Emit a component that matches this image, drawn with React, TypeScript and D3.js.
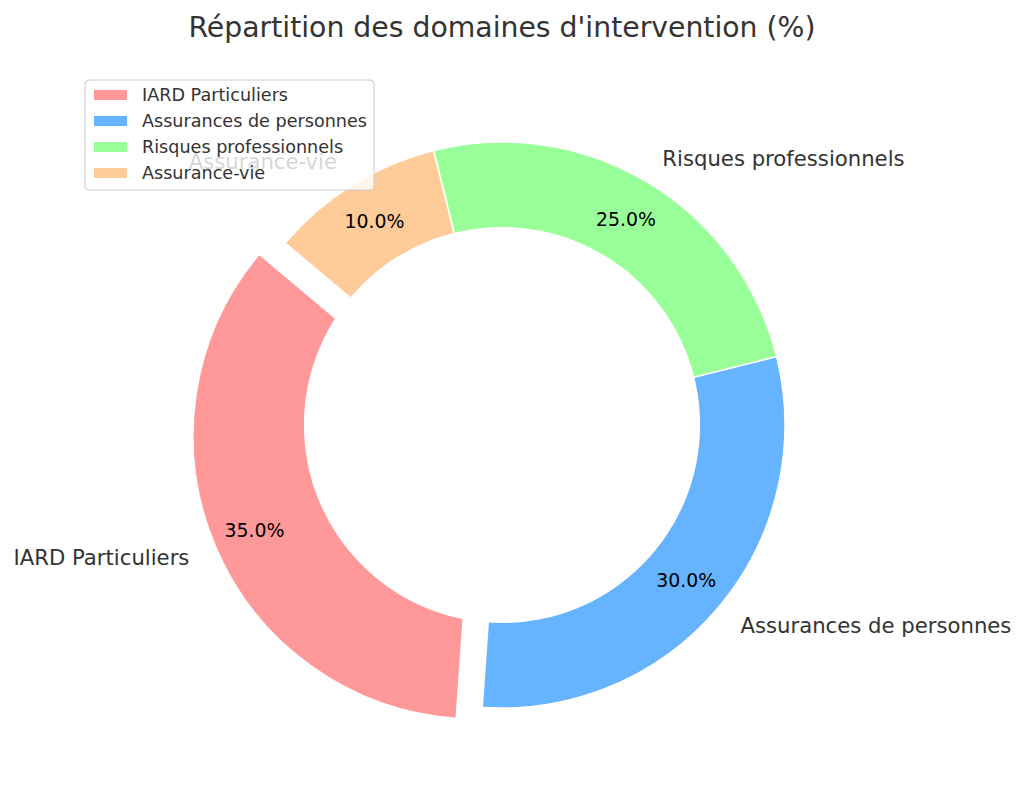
import React from "react";
import * as d3 from "d3";

const categories = ["IARD Particuliers", "Assurances de personnes", "Risques professionnels", "Assurance-vie"];
const values = [35, 30, 25, 10];
const colors = ["#ff9999", "#66b3ff", "#99ff99", "#ffcc99"];
const explode = [0.1, 0, 0, 0];
const title = "Répartition des domaines d'intervention (%)";

const W = 1024;
const H = 792;
const CX = 502;
const CY = 425;
const R = 283;
const HOLE = 0.7;
const START_DEG = 140; // matplotlib startangle, counterclockwise
const FONT = "'DejaVu Sans', sans-serif";

export default function App() {
  const a0 = ((90 - START_DEG) * Math.PI) / 180;
  const pie = d3
    .pie<number>()
    .sort(null)
    .value((d) => d)
    .startAngle(a0)
    .endAngle(a0 - 2 * Math.PI);
  const arcs = pie(values);
  const arcGen = d3.arc<d3.PieArcDatum<number>>().innerRadius(0).outerRadius(R);
  const pctFmt = d3.format(".1f");
  const total = d3.sum(values);

  return (
    <svg
      width={W}
      height={H}
      style={{ position: "absolute", left: 0, top: 0, background: "#fff" }}
      fontFamily={FONT}
    >
      <text x={CX} y={27} textAnchor="middle" dominantBaseline="central" fontSize={28.3} fill="#333">
        {title}
      </text>
      {arcs.map((a, i) => {
        const mid = (a.startAngle + a.endAngle) / 2;
        const off = explode[i] * R;
        const ox = CX + Math.sin(mid) * off;
        const oy = CY - Math.cos(mid) * off;
        return (
          <path
            key={categories[i]}
            d={arcGen(a) || ""}
            transform={`translate(${ox},${oy})`}
            fill={colors[i]}
            stroke="#fff"
            strokeWidth={1.5}
            strokeLinejoin="round"
          />
        );
      })}
      <circle cx={CX} cy={CY} r={R * HOLE} fill="#fff" />
      {arcs.map((a, i) => {
        const mid = (a.startAngle + a.endAngle) / 2;
        const ux = Math.sin(mid);
        const uy = -Math.cos(mid);
        const off = explode[i] * R;
        const lx = CX + ux * (off + 1.1 * R);
        const ly = CY + uy * (off + 1.1 * R);
        const px = CX + ux * (off + 0.85 * R);
        const py = CY + uy * (off + 0.85 * R);
        return (
          <g key={"t" + categories[i]}>
            <text x={lx} y={ly} textAnchor={ux > 0 ? "start" : "end"} dominantBaseline="central" fontSize={21.2} fill="#333">
              {categories[i]}
            </text>
            <text x={px} y={py} textAnchor="middle" dominantBaseline="central" fontSize={18.9} fill="#000">
              {pctFmt((values[i] / total) * 100) + "%"}
            </text>
          </g>
        );
      })}
      <g>
        <rect x={85} y={80} width={289} height={110} rx={4} fill="#fff" fillOpacity={0.8} stroke="#cccccc" strokeWidth={1} />
        {categories.map((c, i) => {
          const y = 95 + i * 26;
          return (
            <g key={"l" + c}>
              <rect x={94} y={y - 5} width={33} height={10} fill={colors[i]} />
              <text x={142} y={y} dominantBaseline="central" fontSize={17.6} fill="#333">
                {c}
              </text>
            </g>
          );
        })}
      </g>
    </svg>
  );
}
